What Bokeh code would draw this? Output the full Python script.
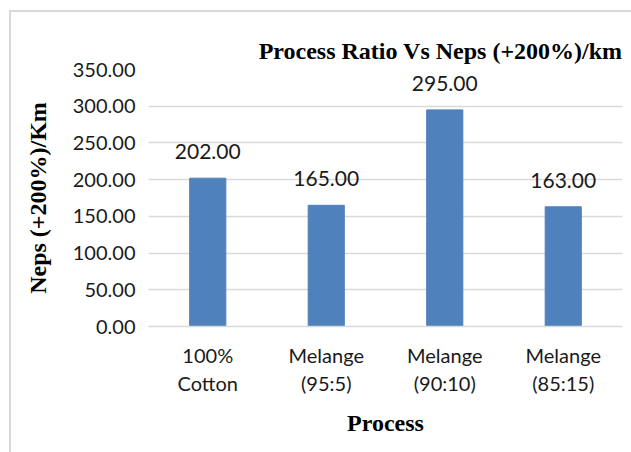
from bokeh.plotting import figure
from bokeh.models import ColumnDataSource, LabelSet, SingleIntervalTicker, NumeralTickFormatter, Title
from bokeh.core.properties import value
from bokeh.embed import file_html
from bokeh.resources import INLINE

categories = ["100%\nCotton", "Melange\n(95:5)", "Melange\n(90:10)", "Melange\n(85:15)"]
values = [202.0, 165.0, 295.0, 163.0]
value_labels = ["202.00", "165.00", "295.00", "163.00"]
title_text = "Process Ratio Vs Neps (+200%)/km"

src = ColumnDataSource(dict(cat=categories, val=values, lab=value_labels))

p = figure(x_range=categories, y_range=(0, 350), width=622, height=442,
           output_backend="svg", toolbar_location=None, title=None,
           min_border_left=137, min_border_right=11, min_border_top=57, min_border_bottom=128)

p.vbar(x="cat", top="val", width=0.305, source=src, color="#4F81BD")

labels = LabelSet(x="cat", y="val", text="lab", source=src, text_align="center",
                  text_baseline="alphabetic", y_offset=19, text_font=value("Lato"),
                  text_font_size="21px", text_color="#1a1a1a")
p.add_layout(labels)

spacer = Title(text=" ", text_font="Liberation Serif", text_font_size="12px",
               standoff=5, text_alpha=0)
p.add_layout(spacer, "above")

main_title = Title(text=title_text, align="right", vertical_align="top", standoff=7,
                   text_font="Liberation Serif", text_font_style="bold",
                   text_font_size="24px", text_color="#000000")
p.add_layout(main_title, "above")

p.outline_line_color = None
p.xgrid.grid_line_color = None
p.ygrid.grid_line_color = "#d9d9d9"
p.ygrid.grid_line_width = 1.5

p.yaxis.ticker = SingleIntervalTicker(interval=50)
p.yaxis.formatter = NumeralTickFormatter(format="0.00")
p.yaxis.axis_line_color = None
p.yaxis.major_tick_line_color = None
p.yaxis.minor_tick_line_color = None
p.yaxis.major_label_text_font = "Lato"
p.yaxis.major_label_text_font_size = "20px"
p.yaxis.major_label_text_color = "#1a1a1a"
p.yaxis.major_label_standoff = 7
p.yaxis.axis_label = "Neps (+200%)/Km"
p.yaxis.axis_label_text_font = "Liberation Serif"
p.yaxis.axis_label_text_font_style = "bold"
p.yaxis.axis_label_text_font_size = "24px"
p.yaxis.axis_label_text_color = "#000000"
p.yaxis.axis_label_standoff = 19

p.xaxis.axis_line_color = "#d9d9d9"
p.xaxis.axis_line_width = 1.5
p.xaxis.major_tick_line_color = None
p.xaxis.minor_tick_line_color = None
p.xaxis.major_label_text_font = "Lato"
p.xaxis.major_label_text_font_size = "20px"
p.xaxis.major_label_text_color = "#1a1a1a"
p.xaxis.major_label_standoff = 10
p.xaxis.axis_label = "Process"
p.xaxis.axis_label_text_font = "Liberation Serif"
p.xaxis.axis_label_text_font_style = "bold"
p.xaxis.axis_label_text_font_size = "24px"
p.xaxis.axis_label_text_color = "#000000"
p.xaxis.axis_label_standoff = 12

p.styles = {"margin-left": "9px", "margin-top": "10px",
            "border-left": "2px solid #d9d9d9", "border-top": "2px solid #d9d9d9"}

open("out.html", "w").write(file_html(p, INLINE))
